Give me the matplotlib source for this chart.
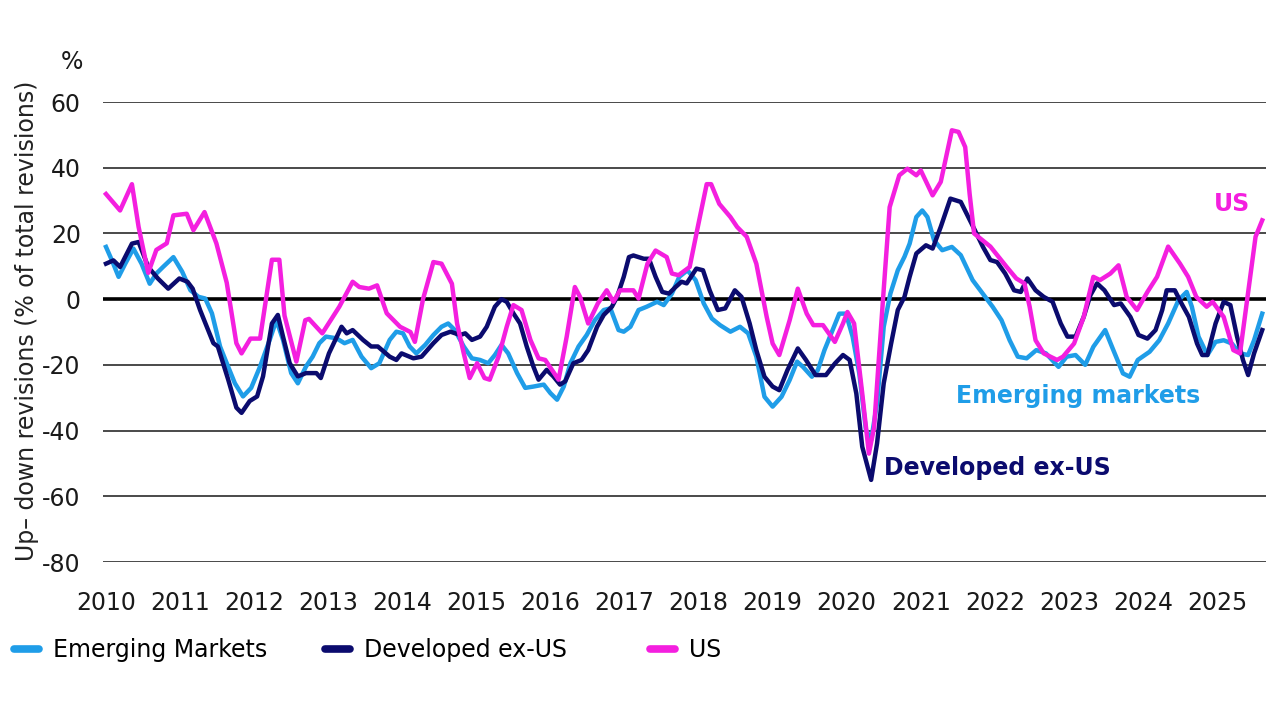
import matplotlib
matplotlib.use("Agg")
import matplotlib.pyplot as plt

plt.rcParams['font.family'] = ['DejaVu Sans']
plt.rcParams['axes.unicode_minus'] = False

# Up-down earnings revisions, % of total revisions
us_x = [2010.00, 2010.19, 2010.35, 2010.44, 2010.57, 2010.68, 2010.82, 2010.91, 2011.09, 2011.18,
        2011.33, 2011.49, 2011.63, 2011.76, 2011.83, 2011.95, 2012.08, 2012.24, 2012.34, 2012.41,
        2012.57, 2012.69, 2012.74, 2012.92, 2013.15, 2013.33, 2013.42, 2013.55, 2013.66, 2013.79,
        2013.97, 2014.11, 2014.17, 2014.28, 2014.42, 2014.53, 2014.67, 2014.74, 2014.83, 2014.91,
        2015.01, 2015.11, 2015.18, 2015.30, 2015.41, 2015.50, 2015.61, 2015.73, 2015.84, 2015.93,
        2016.02, 2016.11, 2016.22, 2016.33, 2016.40, 2016.51, 2016.64, 2016.76, 2016.85, 2016.94,
        2017.12, 2017.19, 2017.31, 2017.42, 2017.57, 2017.64, 2017.73, 2017.88, 2017.99, 2018.11,
        2018.17, 2018.28, 2018.43, 2018.52, 2018.65, 2018.78, 2018.92, 2019.00, 2019.09, 2019.23,
        2019.34, 2019.46, 2019.55, 2019.68, 2019.84, 2019.95, 2020.01, 2020.10, 2020.21, 2020.30,
        2020.37, 2020.48, 2020.58, 2020.71, 2020.82, 2020.94, 2021.00, 2021.16, 2021.27, 2021.42,
        2021.51, 2021.60, 2021.66, 2021.72, 2021.83, 2021.94, 2022.16, 2022.29, 2022.40, 2022.47,
        2022.55, 2022.66, 2022.84, 2022.92, 2023.07, 2023.20, 2023.33, 2023.42, 2023.56, 2023.67,
        2023.78, 2023.92, 2024.06, 2024.19, 2024.34, 2024.50, 2024.61, 2024.72, 2024.86, 2024.94,
        2025.09, 2025.22, 2025.31, 2025.40, 2025.52, 2025.61]
us_y = [32, 27, 35, 22, 8, 15, 17, 25.5, 26, 21,
        26.5, 17, 5, -13.4, -16.5, -12, -12, 12, 12, -5,
        -19, -6.4, -6, -10.4, -2.3, 5.3, 3.7, 3.2, 4.2, -4.3,
        -8.4, -10, -13, 0, 11.3, 10.8, 4.7, -7.4, -16.5, -24,
        -19.5, -24, -24.5, -17.5, -8.4, -1.8, -3.3, -12.4, -18, -18.5,
        -21.5, -24.5, -11.4, 3.7, 0.7, -7.4, -1.3, 2.7, -0.8, 2.7,
        2.7, 0.2, 10.8, 14.8, 12.8, 7.8, 7.3, 9.8, 22, 35,
        35, 29, 25, 22, 19, 10.8, -5.4, -13.5, -17, -6.4,
        3.2, -4.4, -7.9, -7.9, -13, -7.4, -3.9, -7.4, -28.7, -47,
        -39, -3.3, 28, 37.7, 39.7, 37.7, 39.2, 31.6, 35.7, 51.4,
        50.9, 46.3, 32, 20, 18, 16, 9.8, 6.3, 4.8, -2.3,
        -12.5, -16.5, -18.5, -17.5, -13.5, -5.4, 6.8, 5.8, 7.8, 10.3,
        0.7, -3.3, 2.2, 6.8, 16, 10.8, 6.8, 0.7, -2.3, -0.8,
        -5.4, -15.5, -16.5, -1.3, 19, 24]

dev_x = [2010.00, 2010.10, 2010.19, 2010.35, 2010.44, 2010.57, 2010.70, 2010.84, 2010.99, 2011.10,
         2011.17, 2011.27, 2011.45, 2011.51, 2011.65, 2011.76, 2011.83, 2011.94, 2012.04, 2012.12,
         2012.24, 2012.32, 2012.39, 2012.48, 2012.59, 2012.70, 2012.84, 2012.90, 2013.01, 2013.18,
         2013.25, 2013.33, 2013.47, 2013.58, 2013.67, 2013.83, 2013.92, 2013.99, 2014.15, 2014.26,
         2014.42, 2014.53, 2014.65, 2014.78, 2014.85, 2014.94, 2015.05, 2015.14, 2015.25, 2015.34,
         2015.41, 2015.50, 2015.59, 2015.68, 2015.77, 2015.84, 2015.95, 2016.04, 2016.13, 2016.20,
         2016.31, 2016.42, 2016.51, 2016.63, 2016.72, 2016.83, 2016.90, 2016.99, 2017.06, 2017.12,
         2017.26, 2017.33, 2017.42, 2017.51, 2017.60, 2017.69, 2017.77, 2017.84, 2017.97, 2018.06,
         2018.15, 2018.26, 2018.36, 2018.49, 2018.58, 2018.69, 2018.78, 2018.89, 2019.00, 2019.09,
         2019.20, 2019.34, 2019.45, 2019.58, 2019.72, 2019.84, 2019.95, 2020.04, 2020.13, 2020.21,
         2020.33, 2020.41, 2020.50, 2020.60, 2020.69, 2020.78, 2020.85, 2020.94, 2021.07, 2021.16,
         2021.27, 2021.40, 2021.54, 2021.62, 2021.73, 2021.84, 2021.94, 2022.03, 2022.14, 2022.26,
         2022.35, 2022.44, 2022.55, 2022.66, 2022.78, 2022.89, 2022.98, 2023.09, 2023.20, 2023.29,
         2023.38, 2023.48, 2023.61, 2023.70, 2023.83, 2023.94, 2024.06, 2024.17, 2024.26, 2024.32,
         2024.43, 2024.52, 2024.62, 2024.73, 2024.80, 2024.87, 2024.98, 2025.09, 2025.18, 2025.27,
         2025.35, 2025.42, 2025.50, 2025.61]
dev_y = [10.8, 11.8, 9.8, 16.9, 17.4, 9.8, 6.3, 3.2, 6.3, 5.3,
         3.2, -3.3, -13.4, -14.4, -24.5, -33, -34.6, -31, -29.6, -23.5,
         -7.4, -4.8, -11.4, -19.5, -23.5, -22.5, -22.5, -24, -16.5, -8.4,
         -10.4, -9.4, -12.4, -14.4, -14.4, -17.5, -18.5, -16.5, -18, -17.5,
         -13.4, -10.9, -9.9, -10.9, -10.4, -12.4, -11.4, -8.4, -2.3, 0,
         -0.8, -4.3, -7.4, -14.4, -20.5, -24.5, -21.5, -23.5, -26, -25,
         -19.5, -18.5, -15.5, -8.4, -4.8, -2.3, 0.7, 6.8, 12.8, 13.3,
         12.3, 12.3, 6.8, 2.2, 1.7, 3.7, 5.3, 4.8, 9.3, 8.8,
         2.7, -3.3, -2.8, 2.7, 0.7, -7.4, -15.5, -23.6, -26.6, -27.7,
         -21.6, -15, -18.5, -23.1, -23.1, -19.6, -17, -18.5, -28.7, -44.9,
         -55, -43.9, -25.6, -13.5, -3.3, 0.7, 6.8, 13.9, 16.4, 15.4,
         22, 30.6, 29.6, 26, 21, 15.9, 11.9, 11.3, 7.8, 2.7,
         2.2, 6.3, 2.7, 0.7, -0.8, -7.4, -11.4, -11.4, -5.4, 1.2,
         4.8, 2.7, -1.8, -1.3, -5.4, -10.9, -12, -9.4, -3.3, 2.7,
         2.7, -1.3, -5.4, -13.5, -17, -17, -7.4, -0.8, -1.8, -11.4,
         -18.5, -23.1, -16.5, -9.4]

em_x = [2010.00, 2010.08, 2010.17, 2010.26, 2010.37, 2010.48, 2010.59, 2010.68, 2010.77, 2010.91,
        2011.03, 2011.14, 2011.25, 2011.34, 2011.43, 2011.54, 2011.63, 2011.74, 2011.85, 2011.96,
        2012.08, 2012.21, 2012.30, 2012.39, 2012.50, 2012.59, 2012.70, 2012.79, 2012.88, 2012.97,
        2013.11, 2013.22, 2013.33, 2013.45, 2013.58, 2013.69, 2013.83, 2013.92, 2014.01, 2014.10,
        2014.19, 2014.31, 2014.42, 2014.53, 2014.62, 2014.71, 2014.83, 2014.94, 2015.05, 2015.16,
        2015.25, 2015.34, 2015.43, 2015.55, 2015.66, 2015.77, 2015.91, 2016.00, 2016.09, 2016.18,
        2016.27, 2016.38, 2016.49, 2016.60, 2016.72, 2016.81, 2016.92, 2016.99, 2017.08, 2017.19,
        2017.30, 2017.44, 2017.53, 2017.64, 2017.74, 2017.85, 2017.96, 2018.07, 2018.18, 2018.29,
        2018.43, 2018.56, 2018.67, 2018.78, 2018.89, 2019.00, 2019.12, 2019.23, 2019.33, 2019.41,
        2019.53, 2019.61, 2019.70, 2019.81, 2019.90, 2019.99, 2020.08, 2020.17, 2020.26, 2020.33,
        2020.41, 2020.50, 2020.59, 2020.69, 2020.78, 2020.85, 2020.94, 2021.02, 2021.09, 2021.18,
        2021.29, 2021.42, 2021.54, 2021.70, 2021.82, 2021.97, 2022.09, 2022.20, 2022.31, 2022.43,
        2022.56, 2022.69, 2022.86, 2022.97, 2023.09, 2023.22, 2023.33, 2023.49, 2023.60, 2023.73,
        2023.82, 2023.93, 2024.09, 2024.22, 2024.34, 2024.48, 2024.59, 2024.66, 2024.75, 2024.87,
        2024.98, 2025.09, 2025.20, 2025.31, 2025.42, 2025.50, 2025.61]
em_y = [15.9, 11.8, 6.8, 10.8, 15.4, 10.8, 4.7, 7.8, 9.8, 12.8,
        8.3, 2.7, 0.7, 0.2, -4.3, -14.4, -19.5, -25.6, -29.6, -27,
        -20.5, -12.4, -6.4, -12.4, -22.5, -25.6, -20.5, -17.5, -13.4, -11.4,
        -11.9, -13.4, -12.4, -17.5, -21, -19.5, -12.4, -9.9, -10.4, -14.4,
        -16.5, -13.9, -10.9, -8.4, -7.4, -9.4, -14.4, -18, -18.5, -19.5,
        -17, -13.9, -16.5, -22.5, -27, -26.6, -26, -28.6, -30.6, -26.6,
        -19.5, -14.4, -10.9, -6.4, -3.3, -2.8, -9.4, -9.9, -8.4, -3.3,
        -2.3, -0.8, -1.8, 1.7, 6.8, 8.8, 5.8, -1.3, -5.9, -7.9,
        -9.9, -8.4, -10.4, -17.5, -29.7, -32.7, -29.7, -24.6, -19, -20.6,
        -23.6, -21.6, -15.5, -9.4, -4.4, -4.4, -11.4, -22.6, -39.8, -42.9,
        -31.7, -8.4, 1.7, 8.8, 12.9, 16.9, 25, 27, 25, 17.9,
        14.9, 15.9, 13.4, 5.8, 2.2, -2.3, -6.4, -12.5, -17.5, -18,
        -15.5, -16.5, -20.6, -17.5, -17, -20, -14.5, -9.4, -15.5, -22.6,
        -23.6, -18.5, -16, -12.5, -7.4, -0.3, 2.2, -2.3, -11.4, -17,
        -13, -12.5, -13.5, -16.5, -17, -12.5, -4.4]

years = list(range(2010, 2026))
y_ticks = [-80, -60, -40, -20, 0, 20, 40, 60]

c_em = '#1f9de8'
c_dev = '#0b0b6e'
c_us = '#f41fdf'

fig = plt.figure(figsize=(12.8, 7.2), dpi=100)
ax = fig.add_axes([0.0805, 0.2194, 0.9085, 0.6389])

# gridlines
for t in y_ticks:
    ax.axhline(t, color='black' if t == 0 else '#3a3a3a',
               lw=2.6 if t == 0 else 1.3, zorder=1)

l_em, = ax.plot(em_x, em_y, color=c_em, lw=3.2, label='Emerging Markets', zorder=2,
                solid_joinstyle='round')
l_dev, = ax.plot(dev_x, dev_y, color=c_dev, lw=3.2, label='Developed ex-US', zorder=3,
                 solid_joinstyle='round')
l_us, = ax.plot(us_x, us_y, color=c_us, lw=3.2, label='US', zorder=4,
                solid_joinstyle='round')

ax.set_xlim(2009.96, 2025.66)
ax.set_ylim(-80, 60)
ax.set_xticks(years)
ax.set_xticklabels([str(y) for y in years])
ax.set_yticks(y_ticks)
ax.tick_params(length=0, labelsize=17, colors='#1a1a1a')
ax.tick_params(axis='x', pad=21)
ax.tick_params(axis='y', pad=16)
for s in ax.spines.values():
    s.set_visible(False)

ax.set_ylabel('Up\u2013 down revisions (% of total revisions)', fontsize=17,
              color='#222222')
ax.yaxis.set_label_coords(-0.055, 0.524)
fig.text(72 / 1280, 1 - 62 / 720, '%', fontsize=17, color='#1a1a1a',
         ha='center', va='center')

# inline series labels
ax.text(2025.20, 29, 'US', color=c_us, fontsize=17, fontweight='bold',
        ha='center', va='center')
ax.text(2023.12, -29.5, 'Emerging markets', color=c_em, fontsize=17,
        fontweight='bold', ha='center', va='center')
ax.text(2022.04, -51.4, 'Developed ex-US', color=c_dev, fontsize=17,
        fontweight='bold', ha='center', va='center')

# legend entries placed one by one
for handle, x0 in [(l_em, 14), (l_dev, 325), (l_us, 650)]:
    leg = fig.legend(handles=[handle], loc='center left',
                     bbox_to_anchor=(x0 / 1280, 1 - 650 / 720), frameon=False,
                     fontsize=17, handlelength=1.05, handletextpad=0.6,
                     borderpad=0, borderaxespad=0)
    for line in leg.get_lines():
        line.set_linewidth(5.5)
        line.set_solid_capstyle('round')

fig.savefig('out.png', dpi=100)
